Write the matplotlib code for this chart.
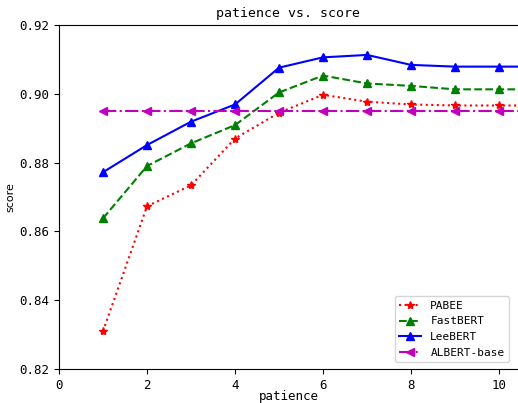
import matplotlib
matplotlib.use("Agg")
import matplotlib.pyplot as plt

patience = [1, 2, 3, 4, 5, 6, 7, 8, 9, 10, 11]
pabee = [0.8310, 0.8673, 0.8734, 0.8870, 0.8945, 0.8997, 0.8977, 0.8969, 0.8966, 0.8966, 0.8966]
fastbert = [0.8638, 0.8790, 0.8856, 0.8909, 0.9004, 0.9053, 0.9030, 0.9023, 0.9013, 0.9013, 0.9013]
leebert = [0.8772, 0.8851, 0.8919, 0.8969, 0.9076, 0.9106, 0.9113, 0.9084, 0.9079, 0.9079, 0.9079]
albert = [0.8950] * 11
xticks = [0, 2, 4, 6, 8, 10]
yticks = [0.82, 0.84, 0.86, 0.88, 0.90, 0.92]

mono = "DejaVu Sans Mono"
fig = plt.figure(figsize=(5.18, 4.03), dpi=100)
W, H = 518, 403
ax = fig.add_axes([59 / W, (H - 369) / H, (W - 59) / W, (369 - 25) / H])

ax.plot(patience, pabee, color="red", linestyle=":", marker="*", markersize=6, linewidth=1.5, label="PABEE")
ax.plot(patience, fastbert, color="green", linestyle="--", marker="^", markersize=6, linewidth=1.5, label="FastBERT")
ax.plot(patience, leebert, color="blue", linestyle="-", marker="^", markersize=6, linewidth=1.5, label="LeeBERT")
ax.plot(patience, albert, color="m", linestyle="-.", marker="<", markersize=6, linewidth=1.5, label="ALBERT-base")

ax.set_xlim(0, 10.43)
ax.set_ylim(0.82, 0.92)
ax.set_xticks(xticks)
ax.set_yticks(yticks)
ax.set_xticklabels([str(t) for t in xticks], family=mono, fontsize=9)
ax.set_yticklabels(["%.2f" % t for t in yticks], family=mono, fontsize=9)
ax.spines["right"].set_visible(False)
ax.set_title("patience vs. score", family=mono, fontsize=9.5)
ax.set_xlabel("patience", family=mono, fontsize=9, labelpad=-1.5)
ax.set_ylabel("score", fontsize=8)
ax.yaxis.set_label_coords(-0.096, 0.5)

leg = ax.legend(loc="lower right", bbox_to_anchor=(509 / W, 41 / H), bbox_transform=fig.transFigure,
                borderaxespad=0, prop={"family": mono, "size": 8})

fig.savefig("out.png", dpi=100)
